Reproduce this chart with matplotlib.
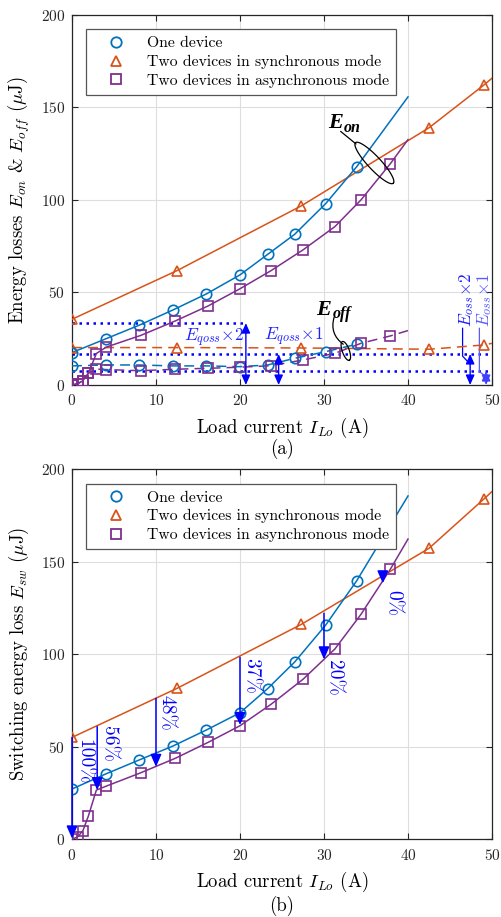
import matplotlib
matplotlib.use('Agg')
import matplotlib.pyplot as plt
import numpy as np
from matplotlib.lines import Line2D

plt.rcParams['font.family'] = 'serif'
plt.rcParams['font.serif'] = ['cmr10']
plt.rcParams['mathtext.fontset'] = 'cm'
plt.rcParams['axes.formatter.use_mathtext'] = True

# MATLAB-ish default colours
blue = '#0072BD'
orange = '#D95319'
purple = '#7E2F8E'
ann_blue = '#0000FF'

# ---------------- data ----------------
# one device (circles)
x_one = [0, 4, 8, 12, 16, 20, 23.3, 26.5, 30.2, 33.9]
eon_one = [17.5, 24.9, 32.3, 40.5, 49.2, 59.5, 70.6, 81.4, 98.0, 118.0]
eoff_one = [10.3, 10.8, 10.8, 10.3, 10.3, 9.9, 10.8, 14.4, 18.0, 22.0]
esw_one = [27.2, 35.3, 42.9, 50.4, 59.1, 68.4, 81.5, 95.8, 115.8, 139.8]
x_one_end = 40
eon_one_end = 155.7
esw_one_end = 185.6

# two devices, synchronous mode (triangles)
x_sync = [0, 12.5, 27.3, 42.5, 49]
eon_sync = [35.5, 61.8, 96.8, 139.0, 162.0]
eoff_sync = [20.2, 20.2, 20.0, 19.3, 21.6]
esw_sync = [55.1, 81.6, 116.2, 157.3, 183.8]
x_sync_end = 50
eon_sync_end = 165.8
eoff_sync_end = 22.5
esw_sync_end = 188.0

# two devices, asynchronous mode (squares)
x_async = [0, 0.7, 1.3, 1.95, 2.9, 4.1, 8.2, 12.3, 16.2, 20, 23.7, 27.5, 31.3, 34.4, 37.9]
eon_async = [0, 0.7, 2.3, 6.3, 17.0, 20.5, 26.8, 34.6, 42.7, 52.0, 61.8, 73.0, 85.6, 100.0, 119.6]
eoff_async = [0, 0.7, 2.3, 6.3, 8.6, 8.3, 7.7, 8.5, 9.0, 9.6, 10.4, 13.5, 17.1, 22.5, 26.5]
esw_async = [0, 1.4, 4.7, 12.6, 26.6, 28.8, 36.0, 43.8, 52.4, 61.4, 73.0, 86.5, 102.9, 121.6, 146.0]
x_async_end = 40
eon_async_end = 132.6
eoff_async_end = 29.4
esw_async_end = 162.3

# output-capacitance energy levels (dotted lines)
eoss_x1 = 7.5
eoss_x2 = 16.7
eqoss_x1 = 16.7
eqoss_x2 = 33.4

# switching-loss reduction arrows, panel (b)
arrow_x = [0, 3, 10, 20, 30, 37]
arrow_from = [55.1, 60.9, 76.2, 98.4, 122.2, 143.5]
arrow_to = [0.5, 26.6, 39.2, 61.8, 97.3, 138.4]
pct_labels = ['100%', '56%', '48%', '37%', '20%', '0%']

legend_labels = ['One device', 'Two devices in synchronous mode',
                 'Two devices in asynchronous mode']

# ---------------- figure ----------------
fig = plt.figure(figsize=(5.01, 9.17), dpi=100)
ax1 = fig.add_axes([0.1437, 0.5802, 0.8383, 0.4035])
ax2 = fig.add_axes([0.1437, 0.0847, 0.8383, 0.4035])

dash = (0, (6.5, 4))
MS = 7.5
MEW = 1.2
LW = 1.1


def style_axes(ax):
    ax.set_xlim(0, 50)
    ax.set_ylim(0, 200)
    ax.set_xticks(np.arange(0, 51, 10))
    ax.set_yticks(np.arange(0, 201, 50))
    ax.grid(True, color='#dedede', lw=0.8)
    ax.set_axisbelow(True)
    ax.tick_params(direction='in', top=True, right=True, length=4, width=0.8,
                   labelsize=11, colors='#262626')
    ax.tick_params(axis='x', pad=6)
    ax.tick_params(axis='y', pad=5)
    for s in ax.spines.values():
        s.set_linewidth(0.9)
        s.set_color('#262626')


def curve(ax, x, y, color, marker, ls='-', x_end=None, y_end=None):
    xl, yl = list(x), list(y)
    if x_end is not None:
        xl.append(x_end)
        yl.append(y_end)
    ax.plot(xl, yl, linestyle=ls, color=color, lw=LW, zorder=3)
    ax.plot(x, y, ls='none', marker=marker, ms=MS, mfc='none', mec=color,
            mew=MEW, zorder=4)


def add_legend(ax):
    handles = [Line2D([], [], ls='none', marker=m, ms=MS, mfc='none', mec=c, mew=1.3)
               for m, c in zip(['o', '^', 's'], [blue, orange, purple])]
    leg = ax.legend(handles, legend_labels, loc='upper left',
                    bbox_to_anchor=(0.0326, 0.961), borderaxespad=0,
                    fancybox=False, edgecolor='#555555', framealpha=1,
                    fontsize=11.3, handlelength=2.9, handletextpad=0.55,
                    borderpad=0.45, labelspacing=0.28)
    leg.get_frame().set_linewidth(0.9)


def ellipse(ax, cx, cy, a_px, b_px, ang):
    # ellipse drawn in screen pixels around a data point
    t = np.linspace(0, 2 * np.pi, 120)
    ca, sa = np.cos(np.radians(ang)), np.sin(np.radians(ang))
    dx = a_px * np.cos(t) * ca - b_px * np.sin(t) * sa
    dy = a_px * np.cos(t) * sa + b_px * np.sin(t) * ca
    c = ax.transData.transform((cx, cy))
    pts = ax.transData.inverted().transform(np.column_stack([c[0] + dx, c[1] + dy]))
    ax.plot(pts[:, 0], pts[:, 1], color='k', lw=0.9, zorder=5)


def dbl_arrow(ax, x, y0, y1, color):
    ax.annotate('', xy=(x, y0), xytext=(x, y1),
                arrowprops=dict(arrowstyle='<|-|>,head_length=0.45,head_width=0.2',
                                color=color, lw=1.0, mutation_scale=13,
                                shrinkA=0, shrinkB=0), zorder=6)


def bold_sym(ax, x, y, main, sub):
    # bold italic symbol with a bold italic subscript
    kw = dict(family='Liberation Serif', weight='bold', style='italic',
              va='baseline', ha='left', color='k', zorder=7)
    t = ax.text(x, y, main, fontsize=16, **kw)
    ax.annotate(sub, xy=(x, y), xytext=(11.5, -2.5), textcoords='offset points',
                fontsize=11.5, **kw)
    return t


# ---------------- (a) Eon / Eoff ----------------
style_axes(ax1)

# dotted energy levels
dot = (0, (1, 1.8))
ax1.plot([0, 20.7], [eqoss_x2, eqoss_x2], color=ann_blue, lw=1.8, linestyle=dot, zorder=2)
ax1.plot([0, 50], [eoss_x2, eoss_x2], color=ann_blue, lw=1.8, linestyle=dot, zorder=2)
ax1.plot([0, 50], [eoss_x1, eoss_x1], color=ann_blue, lw=1.8, linestyle=dot, zorder=2)

curve(ax1, x_sync, eon_sync, orange, '^', '-', x_sync_end, eon_sync_end)
curve(ax1, x_sync, eoff_sync, orange, '^', dash, x_sync_end, eoff_sync_end)
curve(ax1, x_one, eon_one, blue, 'o', '-', x_one_end, eon_one_end)
curve(ax1, x_one, eoff_one, blue, 'o', dash)
curve(ax1, x_async, eon_async, purple, 's', '-', x_async_end, eon_async_end)
curve(ax1, x_async, eoff_async, purple, 's', dash, x_async_end, eoff_async_end)

# Eqoss arrows
dbl_arrow(ax1, 20.7, 0, eqoss_x2, ann_blue)
ax1.text(20.4, 25.5, r'$E_{qoss}{\times}\mathsf{2}$', color='#2020ff', fontsize=12.5,
         ha='right', va='center')
dbl_arrow(ax1, 24.6, 0, eqoss_x1, ann_blue)
ax1.text(22.9, 26.0, r'$E_{qoss}{\times}\mathsf{1}$', color='#2020ff', fontsize=12.5,
         ha='left', va='center')

# Eoss arrows with leaders
dbl_arrow(ax1, 47.4, 0, eoss_x2, ann_blue)
ax1.plot([46.5, 46.5, 47.3], [30.6, 15.6, 11.7], color=ann_blue, lw=0.9)
ax1.text(47.0, 31.4, r'$E_{oss}{\times}\mathsf{2}$', color='#2020ff', fontsize=12.5,
         rotation=90, ha='center', va='bottom')
dbl_arrow(ax1, 49.3, 0, eoss_x1, '#4040ff')
ax1.plot([48.5, 48.5, 49.3], [30.6, 7.2, 4.5], color='#5a5aff', lw=0.9)
ax1.text(49.1, 31.4, r'$E_{oss}{\times}\mathsf{1}$', color='#5a5aff', fontsize=12.5,
         rotation=90, ha='center', va='bottom')

# Eon / Eoff callouts
bold_sym(ax1, 30.5, 138.8, 'E', 'on')
ax1.plot([32.0, 33.8], [137.0, 130.3], color='k', lw=0.9)
ellipse(ax1, 36.0, 120.0, 27.7, 6.5, -47)
bold_sym(ax1, 29.1, 37.8, 'E', 'off')
ax1.annotate('', xy=(32.3, 22.0), xytext=(31.2, 36.5),
             arrowprops=dict(arrowstyle='-', color='k', lw=0.9,
                             connectionstyle='arc3,rad=0.35', shrinkA=0, shrinkB=0))
ellipse(ax1, 32.6, 18.4, 10, 3.5, -70)

add_legend(ax1)
ax1.set_xlabel(r'Load current $I_{Lo}$ (A)', fontsize=13.5)
ax1.xaxis.set_label_coords(0.5, -0.116)
ax1.xaxis.label.set_verticalalignment('center')
ax1.set_ylabel(r'Energy losses $E_{on}$ & $E_{off}$ ($\mu$J)', fontsize=13.5)
ax1.yaxis.set_label_coords(-0.126, 0.5)
ax1.yaxis.label.set_verticalalignment('center')
ax1.text(0.5, -0.174, '(a)', transform=ax1.transAxes, ha='center', va='center',
         fontsize=13.5)

# ---------------- (b) Esw ----------------
style_axes(ax2)
curve(ax2, x_sync, esw_sync, orange, '^', '-', x_sync_end, esw_sync_end)
curve(ax2, x_one, esw_one, blue, 'o', '-', x_one_end, esw_one_end)
curve(ax2, x_async, esw_async, purple, 's', '-', x_async_end, esw_async_end)

label_pos = [(0.4, 54.0), (3.3, 61.5), (10.1, 78.0), (20.2, 98.0), (30.1, 97.0), (37.1, 135.0)]
for xa, y0, y1, lab, (tx, ty) in zip(arrow_x, arrow_from, arrow_to, pct_labels, label_pos):
    ax2.annotate('', xy=(xa, y1), xytext=(xa, y0),
                 arrowprops=dict(arrowstyle='-|>,head_length=0.5,head_width=0.22',
                                 color=ann_blue, lw=1.1, mutation_scale=15,
                                 shrinkA=0, shrinkB=0), zorder=6)
    ax2.text(tx, ty, lab, rotation=-90, ha='left', va='top', fontsize=14,
             color=ann_blue, zorder=6)

add_legend(ax2)
ax2.set_xlabel(r'Load current $I_{Lo}$ (A)', fontsize=13.5)
ax2.xaxis.set_label_coords(0.5, -0.115)
ax2.xaxis.label.set_verticalalignment('center')
ax2.set_ylabel(r'Switching energy loss $E_{sw}$ ($\mu$J)', fontsize=13.5)
ax2.yaxis.set_label_coords(-0.126, 0.5)
ax2.yaxis.label.set_verticalalignment('center')
ax2.text(0.5, -0.18, '(b)', transform=ax2.transAxes, ha='center', va='center',
         fontsize=13.5)

fig.savefig('out.png', dpi=100)
